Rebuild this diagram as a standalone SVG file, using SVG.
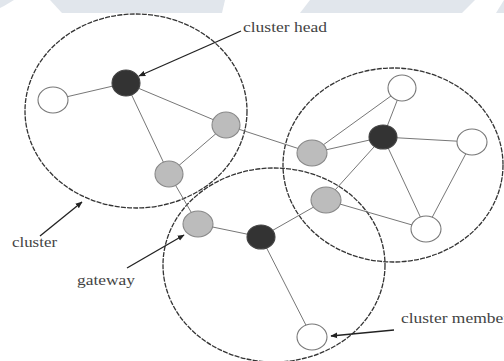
<svg xmlns="http://www.w3.org/2000/svg" width="504" height="361" viewBox="0 0 504 361">
<defs>
<style>
.cl{fill:none;stroke:#333;stroke-width:1.3;stroke-dasharray:5 1.2}
.ed{stroke:#777;stroke-width:1;fill:none}
.nw{fill:#fff;stroke:#777;stroke-width:1.1}
.ng{fill:#bcbcbc;stroke:#888;stroke-width:1.1}
.nh{fill:#333;stroke:#444;stroke-width:1.1}
.lb{font-family:"Liberation Serif","Times New Roman",serif;font-size:15px;fill:#444}
.ar{stroke:#222;stroke-width:1.3;fill:none}
.wm{fill:#e1e6ec}
</style>
<marker id="ah" viewBox="0 0 10 10" refX="9" refY="5" markerWidth="7" markerHeight="7" orient="auto" markerUnits="userSpaceOnUse">
<path d="M0,1 L10,5 L0,9 z" fill="#222"/>
</marker>
</defs>
<rect width="504" height="361" fill="#fff"/>
<g id="watermark">
<polygon class="wm" points="0,0 14,0 4,6 0,8"/>
<polygon class="wm" points="50,0 225,0 222,13 62,13"/>
<polygon class="wm" points="310,0 475,0 462,13 300,13"/>
<polygon class="wm" points="496,13 504,0 504,13"/>
</g>
<g id="clusters">
<ellipse id="cluster1" class="cl" cx="136" cy="111" rx="111" ry="97"/>
<ellipse id="cluster2" class="cl" cx="393" cy="165" rx="110" ry="97"/>
<ellipse id="cluster3" class="cl" cx="274" cy="265" rx="111" ry="97"/>
</g>
<g id="connectors">
<line class="ed" x1="53" y1="100" x2="126" y2="83"/>
<line class="ed" x1="126" y1="83" x2="226" y2="125"/>
<line class="ed" x1="126" y1="83" x2="169" y2="174"/>
<line class="ed" x1="226" y1="125" x2="169" y2="174"/>
<line class="ed" x1="226" y1="125" x2="312" y2="153"/>
<line class="ed" x1="169" y1="174" x2="198" y2="224"/>
<line class="ed" x1="198" y1="224" x2="261" y2="237"/>
<line class="ed" x1="261" y1="237" x2="326" y2="200"/>
<line class="ed" x1="261" y1="237" x2="312" y2="337"/>
<line class="ed" x1="312" y1="153" x2="383" y2="137"/>
<line class="ed" x1="312" y1="153" x2="402" y2="88"/>
<line class="ed" x1="383" y1="137" x2="402" y2="88"/>
<line class="ed" x1="383" y1="137" x2="472" y2="142"/>
<line class="ed" x1="383" y1="137" x2="326" y2="200"/>
<line class="ed" x1="383" y1="137" x2="426" y2="229"/>
<line class="ed" x1="472" y1="142" x2="426" y2="229"/>
<line class="ed" x1="326" y1="200" x2="426" y2="229"/>
<line class="ar" x1="241" y1="31" x2="139" y2="76" marker-end="url(#ah)"/>
<line class="ar" x1="40" y1="236" x2="82" y2="202" marker-end="url(#ah)"/>
<line class="ar" x1="127" y1="268" x2="184" y2="235" marker-end="url(#ah)"/>
<line class="ar" x1="394" y1="330" x2="331" y2="336" marker-end="url(#ah)"/>
</g>
<g id="n1"><ellipse class="nw" cx="53" cy="100" rx="15" ry="13"/></g>
<g id="h1"><ellipse class="nh" cx="126" cy="83" rx="14" ry="13"/></g>
<g id="g1"><ellipse class="ng" cx="226" cy="125" rx="14" ry="13"/></g>
<g id="g2"><ellipse class="ng" cx="169" cy="174" rx="14" ry="13"/></g>
<g id="n2"><ellipse class="nw" cx="402" cy="88" rx="14" ry="13"/></g>
<g id="h2"><ellipse class="nh" cx="383" cy="137" rx="14" ry="12"/></g>
<g id="n3"><ellipse class="nw" cx="472" cy="142" rx="15" ry="13"/></g>
<g id="g3"><ellipse class="ng" cx="312" cy="153" rx="15" ry="13"/></g>
<g id="g4"><ellipse class="ng" cx="326" cy="200" rx="15" ry="13"/></g>
<g id="n4"><ellipse class="nw" cx="426" cy="229" rx="15" ry="13"/></g>
<g id="g5"><ellipse class="ng" cx="198" cy="224" rx="15" ry="13"/></g>
<g id="h3"><ellipse class="nh" cx="261" cy="237" rx="14" ry="12"/></g>
<g id="n5"><ellipse class="nw" cx="312" cy="337" rx="15" ry="13"/></g>
<g id="labels">
<text class="lb" x="243" y="32" textLength="84" lengthAdjust="spacingAndGlyphs">cluster head</text>
<text class="lb" x="12" y="247" textLength="45" lengthAdjust="spacingAndGlyphs">cluster</text>
<text class="lb" x="77" y="285" textLength="58" lengthAdjust="spacingAndGlyphs">gateway</text>
<text class="lb" x="401" y="323" textLength="108" lengthAdjust="spacingAndGlyphs">cluster member</text>
</g>
</svg>
